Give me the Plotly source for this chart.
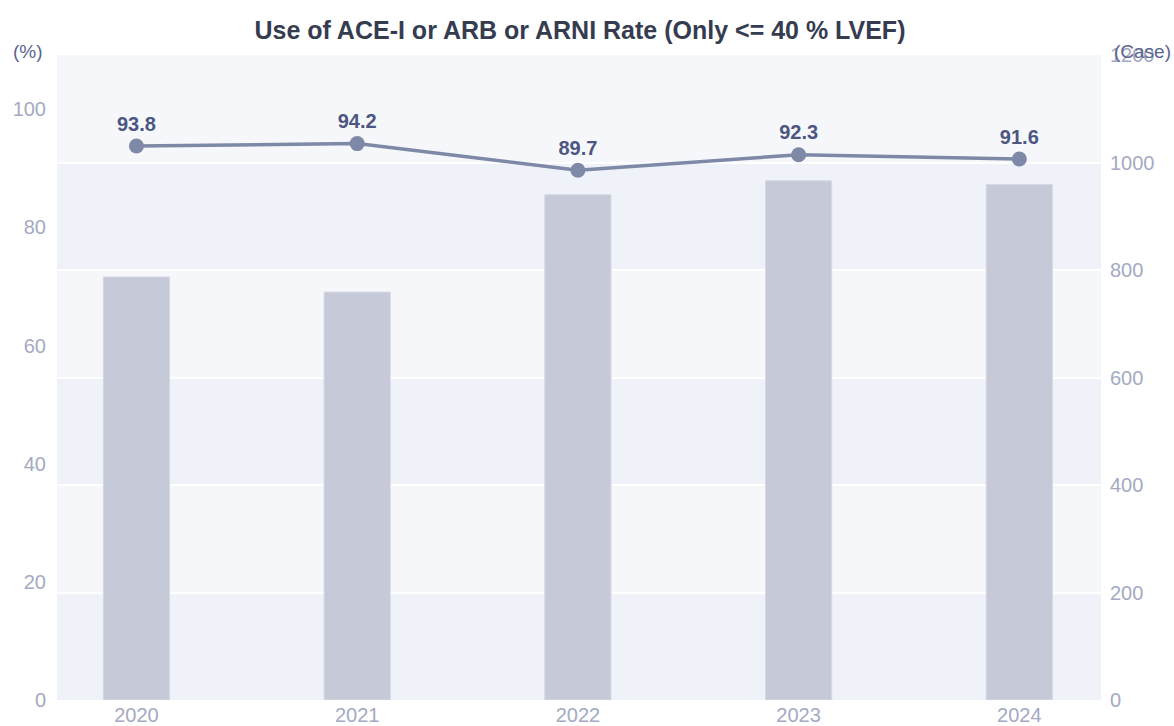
import plotly.graph_objects as go

years = ["2020", "2021", "2022", "2023", "2024"]
cases = [787, 759, 940, 966, 959]
rates = [93.8, 94.2, 89.7, 92.3, 91.6]
case_ticks = [0, 200, 400, 600, 800, 1000, 1200]
rate_ticks = [0, 20, 40, 60, 80, 100]

FONT = "Liberation Sans, Arial, sans-serif"
TICK_COLOR = "#a3aac2"

fig = go.Figure()

fig.add_trace(go.Bar(
    x=years, y=cases, yaxis="y",
    marker=dict(color="#c5c9d8", line=dict(color="#d6d9e4", width=1)),
    width=0.30, hoverinfo="skip", showlegend=False,
))

fig.add_trace(go.Scatter(
    x=years, y=rates, yaxis="y2",
    mode="lines+markers+text",
    line=dict(color="#7d89a7", width=3.5),
    marker=dict(color="#7d89a7", size=15),
    text=[f"<b>{v:.1f}</b>" for v in rates],
    textposition="top center",
    textfont=dict(family=FONT, size=20, color="#4c5680"),
    showlegend=False,
))

# alternating background bands (between right-axis gridlines)
band_dark = "#eff2f8"
band_light = "#f6f7fb"
for i in range(len(case_ticks) - 1):
    fig.add_shape(
        type="rect", xref="paper", yref="y",
        x0=0, x1=1, y0=case_ticks[i], y1=case_ticks[i + 1],
        fillcolor=band_dark if i % 2 == 0 else band_light,
        line=dict(width=0), layer="below",
    )

fig.update_layout(
    width=1174, height=726,
    margin=dict(l=57, r=73, t=55, b=26, autoexpand=False),
    paper_bgcolor="white",
    plot_bgcolor="white",
    font=dict(family=FONT),
    title=dict(
        text="<b>Use of ACE-I or ARB or ARNI Rate (Only <= 40 % LVEF)</b>",
        x=0.494, xanchor="center", y=0.958, yanchor="middle",
        font=dict(family=FONT, size=25, color="#363c50"),
    ),
    xaxis=dict(
        type="category", range=[-0.36, 4.37],
        showgrid=False, zeroline=False, showline=False,
        tickfont=dict(family=FONT, size=20, color=TICK_COLOR),
        ticks="", ticklabelstandoff=1, automargin=False,
    ),
    yaxis=dict(
        side="right", range=[0, 1200], tickvals=case_ticks,
        showgrid=True, gridcolor="white", gridwidth=2,
        zeroline=False, showline=False,
        tickfont=dict(family=FONT, size=20, color=TICK_COLOR),
        ticks="", ticklabelstandoff=8, automargin=False,
    ),
    yaxis2=dict(
        overlaying="y", side="left", range=[0, 109.2], tickvals=rate_ticks,
        showgrid=False, zeroline=False, showline=False,
        tickfont=dict(family=FONT, size=20, color=TICK_COLOR),
        ticks="", ticklabelstandoff=10, automargin=False,
    ),
    annotations=[
        dict(text="(%)", xref="paper", yref="paper", x=-0.028, y=1.005,
             xanchor="center", yanchor="middle", showarrow=False,
             font=dict(family=FONT, size=19, color="#5b6590")),
        dict(text="(Case)", xref="paper", yref="paper", x=1.04, y=1.005,
             xanchor="center", yanchor="middle", showarrow=False,
             font=dict(family=FONT, size=19, color="#5b6590")),
    ],
)

fig.write_html("out.html", config={"displayModeBar": False},
               post_script="document.body.style.margin='0';")
